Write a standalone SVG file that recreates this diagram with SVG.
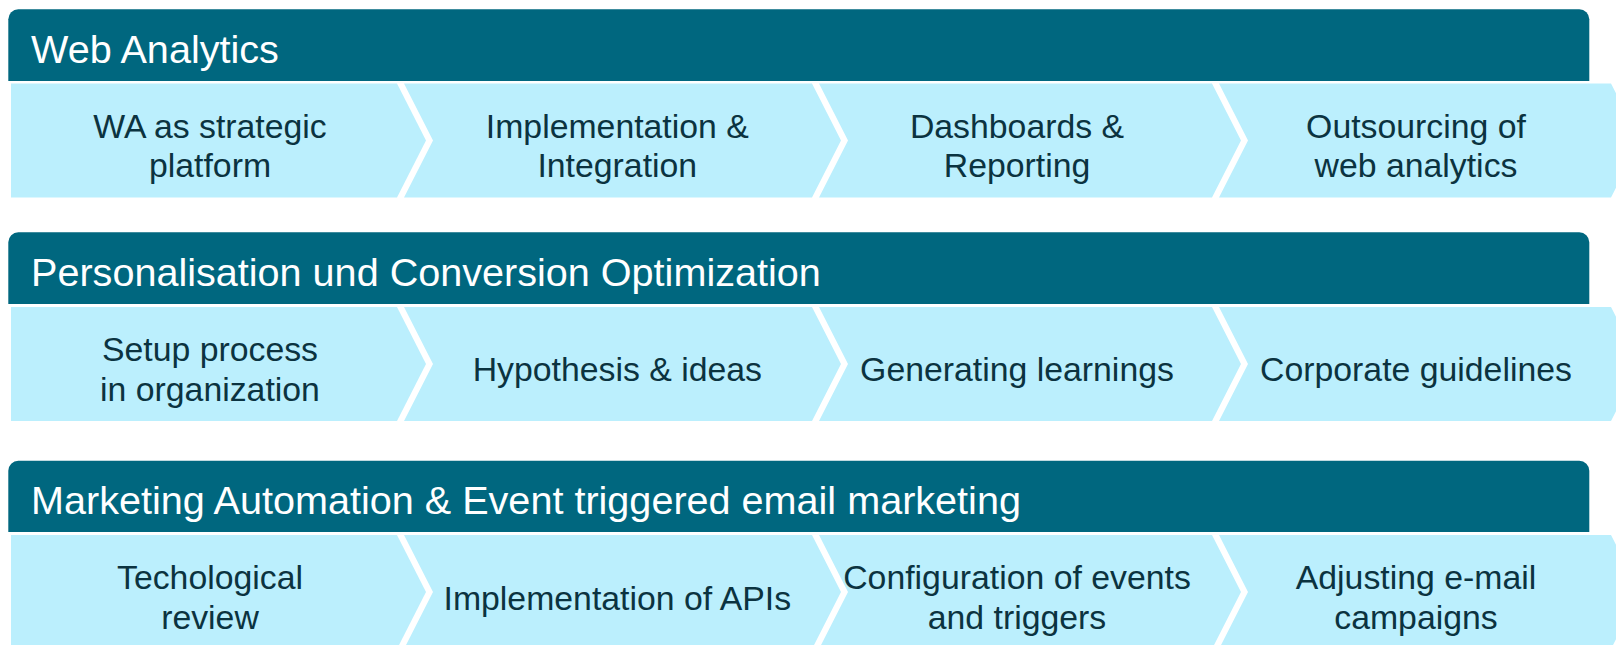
<svg xmlns="http://www.w3.org/2000/svg" width="1616" height="645" viewBox="0 0 1616 645">
<style>
.hdr{fill:#00677f}
.chev{fill:#bbeffd}
.ht{font-family:"Liberation Sans",Arial,sans-serif;font-size:39.6px;fill:#ffffff}
.ct{font-family:"Liberation Sans",Arial,sans-serif;font-size:33.8px;fill:#0b3340;text-anchor:middle}
</style>
<rect width="1616" height="645" fill="#ffffff"/>

<!-- Row 1 -->
<g id="hdr-web-analytics">
<path class="hdr" d="M8.3,81 V19.3 A10,10 0 0 1 18.3,9.3 H1579.3 A10,10 0 0 1 1589.3,19.3 V81 Z"/>
<text class="ht" x="31" y="62.5">Web Analytics</text>
</g>
<g id="r1c1">
<polygon class="chev" points="11,83.5 397,83.5 426,140.5 397,197.5 11,197.5"/>
<text class="ct" x="210" y="138"><tspan x="210">WA as strategic</tspan><tspan x="210" y="177.3">platform</tspan></text>
</g>
<g id="r1c2">
<polygon class="chev" points="404,83.5 812,83.5 841,140.5 812,197.5 404,197.5 433,140.5"/>
<text class="ct" x="617.3" y="138"><tspan x="617.3">Implementation &amp;</tspan><tspan x="617.3" y="177.3">Integration</tspan></text>
</g>
<g id="r1c3">
<polygon class="chev" points="819,83.5 1212,83.5 1241,140.5 1212,197.5 819,197.5 848,140.5"/>
<text class="ct" x="1017" y="138"><tspan x="1017">Dashboards &amp;</tspan><tspan x="1017" y="177.3">Reporting</tspan></text>
</g>
<g id="r1c4">
<polygon class="chev" points="1219,83.5 1611,83.5 1640,140.5 1611,197.5 1219,197.5 1248,140.5"/>
<text class="ct" x="1416" y="138"><tspan x="1416">Outsourcing of</tspan><tspan x="1416" y="177.3">web analytics</tspan></text>
</g>

<!-- Row 2 -->
<g id="hdr-personalisation">
<path class="hdr" d="M8.3,304 V242.3 A10,10 0 0 1 18.3,232.3 H1579.3 A10,10 0 0 1 1589.3,242.3 V304 Z"/>
<text class="ht" x="31" y="285.8">Personalisation und Conversion Optimization</text>
</g>
<g id="r2c1">
<polygon class="chev" points="11,307 397,307 426,364 397,421 11,421"/>
<text class="ct" x="210" y="361"><tspan x="210">Setup process</tspan><tspan x="210" y="400.5">in organization</tspan></text>
</g>
<g id="r2c2">
<polygon class="chev" points="404,307 812,307 841,364 812,421 404,421 433,364"/>
<text class="ct" x="617.3" y="381">Hypothesis &amp; ideas</text>
</g>
<g id="r2c3">
<polygon class="chev" points="819,307 1212,307 1241,364 1212,421 819,421 848,364"/>
<text class="ct" x="1017" y="381">Generating learnings</text>
</g>
<g id="r2c4">
<polygon class="chev" points="1219,307 1611,307 1640,364 1611,421 1219,421 1248,364"/>
<text class="ct" x="1416" y="381">Corporate guidelines</text>
</g>

<!-- Row 3 -->
<g id="hdr-marketing-automation">
<path class="hdr" d="M8.3,532 V470.7 A10,10 0 0 1 18.3,460.7 H1579.3 A10,10 0 0 1 1589.3,470.7 V532 Z"/>
<text class="ht" x="31" y="514.2">Marketing Automation &amp; Event triggered email marketing</text>
</g>
<g id="r3c1">
<polygon class="chev" points="11,535 397,535 426,592 397,649 11,649"/>
<text class="ct" x="210" y="589"><tspan x="210">Techological</tspan><tspan x="210" y="628.5">review</tspan></text>
</g>
<g id="r3c2">
<polygon class="chev" points="404,535 812,535 841,592 812,649 404,649 433,592"/>
<text class="ct" x="617.3" y="609.5">Implementation of APIs</text>
</g>
<g id="r3c3">
<polygon class="chev" points="819,535 1212,535 1241,592 1212,649 819,649 848,592"/>
<text class="ct" x="1017" y="589"><tspan x="1017">Configuration of events</tspan><tspan x="1017" y="628.5">and triggers</tspan></text>
</g>
<g id="r3c4">
<polygon class="chev" points="1219,535 1611,535 1640,592 1611,649 1219,649 1248,592"/>
<text class="ct" x="1416" y="589"><tspan x="1416">Adjusting e-mail</tspan><tspan x="1416" y="628.5">campaigns</tspan></text>
</g>
</svg>
